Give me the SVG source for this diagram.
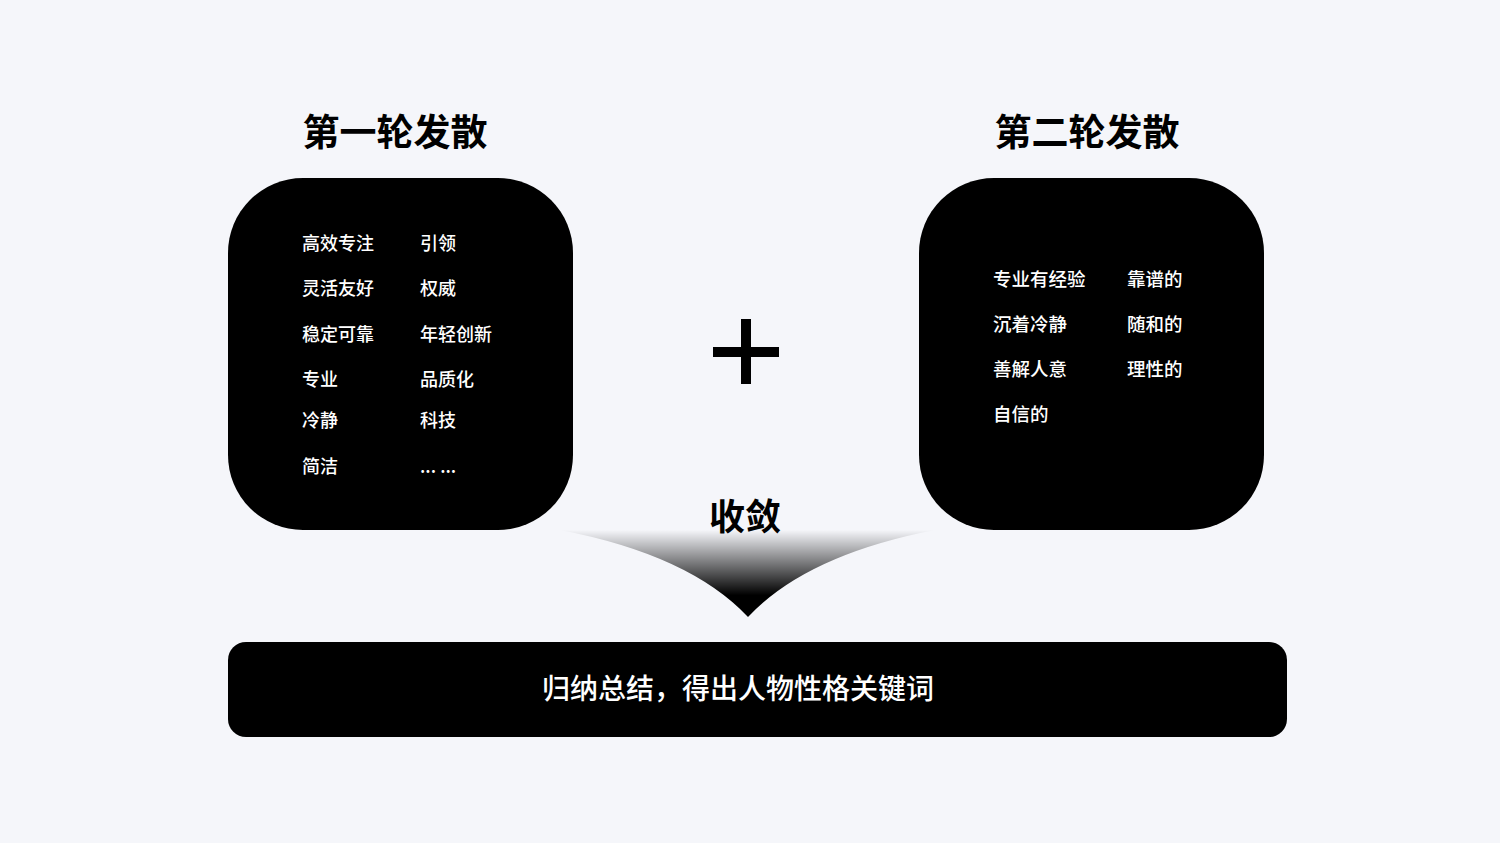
<svg xmlns="http://www.w3.org/2000/svg" width="1500" height="843" viewBox="0 0 1500 843">
<defs>
<style>
.t{font-family:"Noto Sans CJK SC","Noto Sans",sans-serif;}
.title{font-size:37px;font-weight:700;fill:#000;text-anchor:middle;}
.item{font-size:18px;font-weight:500;fill:#fff;}
.box{fill:#000;}
</style>
<linearGradient id="fg" x1="0" y1="530" x2="0" y2="617" gradientUnits="userSpaceOnUse">
<stop offset="0" stop-color="#000" stop-opacity="0"/>
<stop offset="0.75" stop-color="#000" stop-opacity="1"/>
<stop offset="1" stop-color="#000" stop-opacity="1"/>
</linearGradient>
</defs>
<rect width="1500" height="843" fill="#f5f6fa"/>

<g id="title1"><text class="t title" x="395" y="146">第一轮发散</text></g>
<g id="title2"><text class="t title" x="1087" y="146">第二轮发散</text></g>

<g id="box1">
<rect class="box" x="228" y="178" width="345" height="352" rx="75"/>
<g class="t item">
<text x="302" y="250">高效专注</text><text x="420" y="250">引领</text>
<text x="302" y="295">灵活友好</text><text x="420" y="295">权威</text>
<text x="302" y="341">稳定可靠</text><text x="420" y="341">年轻创新</text>
<text x="302" y="386">专业</text><text x="420" y="386">品质化</text>
<text x="302" y="427">冷静</text><text x="420" y="427">科技</text>
<text x="302" y="473">简洁</text><text x="420" y="473">... ...</text>
</g>
</g>

<g id="plus">
<rect x="713" y="347" width="66" height="10" fill="#000"/>
<rect x="741" y="319" width="10" height="65" fill="#000"/>
</g>

<g id="box2">
<rect class="box" x="919" y="178" width="345" height="352" rx="75"/>
<g class="t item" style="font-size:18.5px">
<text x="993" y="286">专业有经验</text><text x="1127" y="286">靠谱的</text>
<text x="993" y="331">沉着冷静</text><text x="1127" y="331">随和的</text>
<text x="993" y="376">善解人意</text><text x="1127" y="376">理性的</text>
<text x="993" y="421">自信的</text>
</g>
</g>

<g id="converge">
<text class="t" x="745" y="530" style="font-size:36px;font-weight:700;text-anchor:middle;fill:#000">收敛</text>
<path d="M560,530 Q690,555 748,617 Q806,555 935,530 Z" fill="url(#fg)"/>
</g>

<g id="result">
<rect x="228" y="642" width="1059" height="95" rx="18" fill="#000"/>
<text class="t" x="738" y="699" style="font-size:28px;font-weight:500;fill:#fff;text-anchor:middle">归纳总结，得出人物性格关键词</text>
</g>
</svg>
